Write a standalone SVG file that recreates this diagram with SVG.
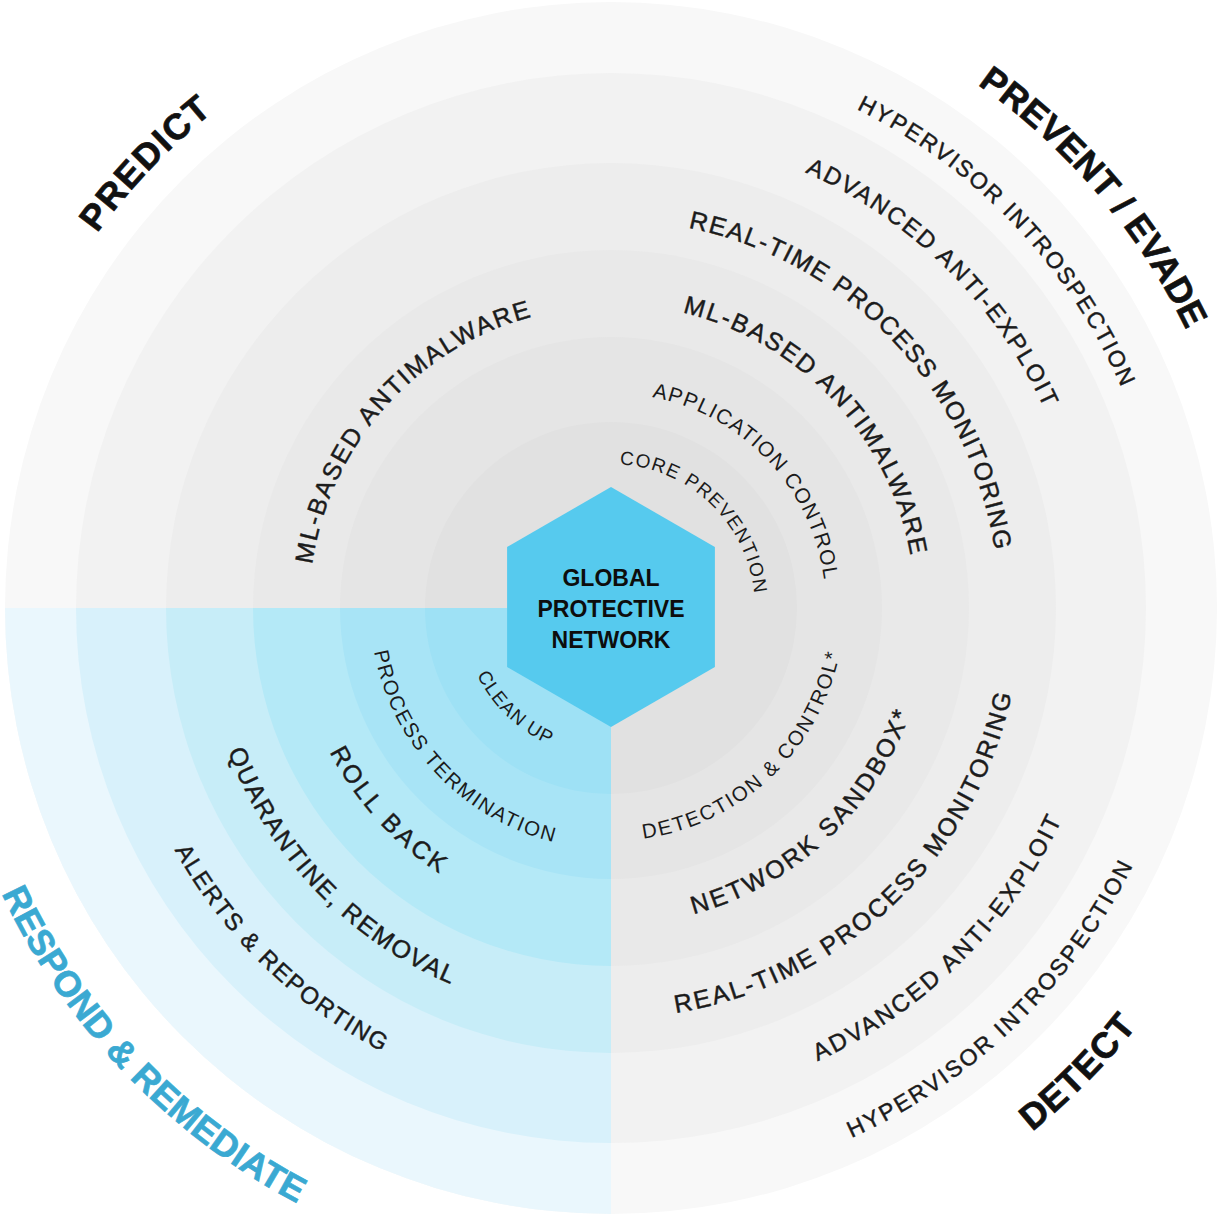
<svg xmlns="http://www.w3.org/2000/svg" width="1222" height="1215" viewBox="0 0 1222 1215">
<style>
.it{font-family:"Liberation Sans",Arial,sans-serif;fill:#1b1b1b}
.md{stroke:#1b1b1b;stroke-width:0.45px}
.ti{font-family:"Liberation Sans",Arial,sans-serif;font-weight:bold;font-size:36px;fill:#111;stroke:#111;stroke-width:0.7px}
.hx{font-family:"Liberation Sans",Arial,sans-serif;font-weight:bold;font-size:23px;fill:#0d0d0d;text-anchor:middle}
</style>
<defs>
<path id="p1" d="M619.5,464.3 A144,144 0 0 1 754.2,593.2"/>
<path id="p2" d="M652.0,397.0 A215,215 0 0 1 824.1,579.6"/>
<path id="p3" d="M682.5,312.5 A304,304 0 0 1 910.4,555.2"/>
<path id="p4" d="M688.4,227.8 A388,388 0 0 1 994.7,550.0"/>
<path id="p5" d="M805.0,172.3 A477,477 0 0 1 1044.0,407.9"/>
<path id="p6" d="M856.5,109.1 A556,556 0 0 1 1121.3,387.2"/>
<path id="p7" d="M977.5,84.5 A639,639 0 0 1 1186.3,329.9"/>
<path id="p8" d="M97.1,233.3 A636,636 0 0 1 212.5,112.4"/>
<path id="p9" d="M312.2,564.4 A302,302 0 0 1 531.3,316.7"/>
<path id="p10" d="M643.4,838.7 A233,233 0 0 0 839.5,653.6"/>
<path id="p11" d="M693.6,914.1 A317,317 0 0 0 909.8,713.8"/>
<path id="p12" d="M675.9,1012.8 A410,410 0 0 0 1011.7,694.6"/>
<path id="p13" d="M817.5,1061.2 A498,498 0 0 0 1061.6,820.1"/>
<path id="p14" d="M851.4,1138.0 A582,582 0 0 0 1132.8,865.9"/>
<path id="p15" d="M1032.1,1131.7 A672,672 0 0 0 1136.9,1026.3"/>
<path id="p16" d="M476.8,674.9 A150,150 0 0 0 548.8,744.5"/>
<path id="p17" d="M374.0,651.5 A241,241 0 0 0 553.1,841.9"/>
<path id="p18" d="M329.7,751.9 A316,316 0 0 0 439.4,873.3"/>
<path id="p19" d="M227.9,751.2 A409,409 0 0 0 450.6,984.2"/>
<path id="p20" d="M174.6,849.9 A499,499 0 0 0 382.2,1051.4"/>
<path id="p21" d="M1.5,893.5 A673,673 0 0 0 297.1,1203.3"/>
</defs>
<rect width="1222" height="1215" fill="#ffffff"/>
<g id="rings">
<circle cx="611" cy="608" r="606" fill="#f8f8f8"/>
<circle cx="611" cy="608" r="535" fill="#f2f2f2"/>
<circle cx="611" cy="608" r="445" fill="#ededed"/>
<circle cx="611" cy="608" r="358" fill="#e9e9e9"/>
<circle cx="611" cy="608" r="271" fill="#e5e5e5"/>
<circle cx="611" cy="608" r="186" fill="#e1e1e1"/>
</g>
<g id="respond-quadrant">
<path d="M611,608 L5,608 A606,606 0 0 0 611,1214 Z" fill="#eaf7fd"/>
<path d="M611,608 L76,608 A535,535 0 0 0 611,1143 Z" fill="#d8f1fb"/>
<path d="M611,608 L166,608 A445,445 0 0 0 611,1053 Z" fill="#c7edf8"/>
<path d="M611,608 L253,608 A358,358 0 0 0 611,966 Z" fill="#b4e9f7"/>
<path d="M611,608 L340,608 A271,271 0 0 0 611,879 Z" fill="#a8e4f6"/>
<path d="M611,608 L425,608 A186,186 0 0 0 611,794 Z" fill="#9ee1f5"/>
</g>
<g id="hexagon">
<polygon points="611,487 714.9,547 714.9,667 611,727 507.1,667 507.1,547" fill="#56caee"/>
<text class="hx" x="611" y="586">GLOBAL</text>
<text class="hx" x="611" y="617">PROTECTIVE</text>
<text class="hx" x="611" y="648">NETWORK</text>
</g>
<g id="titles">
<text class="ti" font-size="35"><textPath href="#p7" textLength="325.6" lengthAdjust="spacing">PREVENT / EVADE</textPath></text>
<text class="ti"><textPath href="#p8" textLength="167.6" lengthAdjust="spacing">PREDICT</textPath></text>
<text class="ti"><textPath href="#p15" textLength="148.9" lengthAdjust="spacing">DETECT</textPath></text>
<text class="ti" font-size="35" style="fill:#3aa9d2;stroke:#3aa9d2"><textPath href="#p21" textLength="436" lengthAdjust="spacing">RESPOND &amp; REMEDIATE</textPath></text>
</g>
<g id="prevent-items">
<text class="it" font-size="19"><textPath href="#p1" textLength="202.8" lengthAdjust="spacing">CORE PREVENTION</textPath></text>
<text class="it" font-size="21"><textPath href="#p2" textLength="267.9" lengthAdjust="spacing">APPLICATION CONTROL</textPath></text>
<text class="it md" font-size="25"><textPath href="#p3" textLength="352.3" lengthAdjust="spacing">ML-BASED ANTIMALWARE</textPath></text>
<text class="it md" font-size="25"><textPath href="#p4" textLength="473.4" lengthAdjust="spacing">REAL-TIME PROCESS MONITORING</textPath></text>
<text class="it md" font-size="24"><textPath href="#p5" textLength="343" lengthAdjust="spacing">ADVANCED ANTI-EXPLOIT</textPath></text>
<text class="it md" font-size="23"><textPath href="#p6" textLength="392" lengthAdjust="spacing">HYPERVISOR INTROSPECTION</textPath></text>
</g>
<g id="predict-items">
<text class="it md" font-size="25"><textPath href="#p9" textLength="350" lengthAdjust="spacing">ML-BASED ANTIMALWARE</textPath></text>
</g>
<g id="detect-items">
<text class="it" font-size="20.5"><textPath href="#p10" textLength="287.5" lengthAdjust="spacing">DETECTION &amp; CONTROL*</textPath></text>
<text class="it md" font-size="25"><textPath href="#p11" textLength="306.5" lengthAdjust="spacing">NETWORK SANDBOX*</textPath></text>
<text class="it md" font-size="25"><textPath href="#p12" textLength="491.6" lengthAdjust="spacing">REAL-TIME PROCESS MONITORING</textPath></text>
<text class="it md" font-size="24"><textPath href="#p13" textLength="350.3" lengthAdjust="spacing">ADVANCED ANTI-EXPLOIT</textPath></text>
<text class="it md" font-size="23"><textPath href="#p14" textLength="399.2" lengthAdjust="spacing">HYPERVISOR INTROSPECTION</textPath></text>
</g>
<g id="respond-items">
<text class="it" font-size="19"><textPath href="#p16" textLength="102.1" lengthAdjust="spacing">CLEAN UP</textPath></text>
<text class="it" font-size="20.5"><textPath href="#p17" textLength="276.3" lengthAdjust="spacing">PROCESS TERMINATION</textPath></text>
<text class="it md" font-size="25"><textPath href="#p18" textLength="165.5" lengthAdjust="spacing">ROLL BACK</textPath></text>
<text class="it md" font-size="25"><textPath href="#p19" textLength="331.2" lengthAdjust="spacing">QUARANTINE, REMOVAL</textPath></text>
<text class="it md" font-size="24"><textPath href="#p20" textLength="293.5" lengthAdjust="spacing">ALERTS &amp; REPORTING</textPath></text>
</g>
</svg>
